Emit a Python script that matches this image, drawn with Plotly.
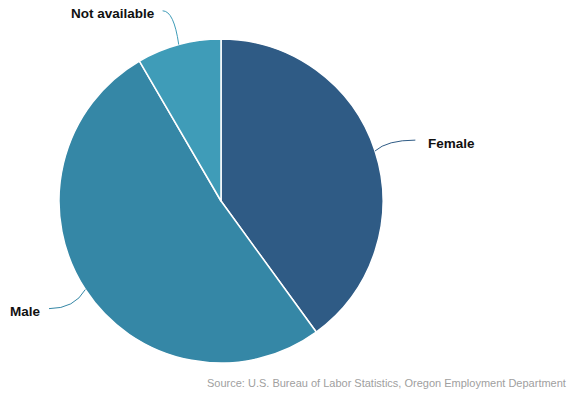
import math
import plotly.graph_objects as go

# Share of records by sex
labels = ["Female", "Male", "Not available"]
shares = [40.0, 51.6, 8.4]
colors = ["#2F5B85", "#3587A6", "#3F9CB8"]
source_text = "Source: U.S. Bureau of Labor Statistics, Oregon Employment Department"

W, H = 568, 396
CX, CY, R = 221, 201, 162          # pie centre and radius in pixels
CONNECTOR_REACH = 35               # radial connector length beyond the rim
CONNECTOR_TAIL = 7                 # horizontal run toward the label
LABEL_GAP_RIGHT = 11
LABEL_GAP_LEFT = 6
LABEL_DROP = 3

def px(x):
    return x / W

def py(y):
    return 1 - y / H

fig = go.Figure(go.Pie(
    labels=labels,
    values=shares,
    marker=dict(colors=colors, line=dict(color="white", width=1.5)),
    sort=False,
    direction="clockwise",
    rotation=0,
    textinfo="none",
    hoverinfo="label+percent",
    domain=dict(x=[px(CX - R), px(CX + R)], y=[py(CY + R), py(CY - R)]),
))

# Outside labels with curved connectors, placed from each slice's mid angle
total = sum(shares)
shapes, annotations = [], []
start = 0.0
for name, val, col in zip(labels, shares, colors):
    mid = (start + val / 2) / total * 2 * math.pi
    start += val
    side = 1 if math.sin(mid) >= 0 else -1
    sx, sy = CX + R * math.sin(mid), CY - R * math.cos(mid)
    ex = CX + (R + CONNECTOR_REACH) * math.sin(mid) + side * CONNECTOR_TAIL
    ey = CY - (R + CONNECTOR_REACH) * math.cos(mid)
    cx_ctrl = sx + (ex - sx) * 0.3
    cy_ctrl = ey
    path = (f"M {px(sx)} {py(sy)} Q {px(cx_ctrl)} {py(cy_ctrl)} {px(ex)} {py(ey)}")
    shapes.append(dict(type="path", path=path, xref="paper", yref="paper",
                       line=dict(color=col, width=1)))
    gap = LABEL_GAP_RIGHT if side > 0 else LABEL_GAP_LEFT
    annotations.append(dict(
        x=px(ex + side * gap), y=py(ey + LABEL_DROP),
        xref="paper", yref="paper",
        text=f"<b>{name}</b>", showarrow=False,
        xanchor="left" if side > 0 else "right", yanchor="middle",
        font=dict(family="Liberation Sans, Arial, sans-serif", size=13.5, color="#111111"),
    ))

annotations.append(dict(
    x=px(568), y=py(383), xref="paper", yref="paper",
    text=source_text, showarrow=False, xanchor="right", yanchor="middle",
    font=dict(family="Liberation Sans, Arial, sans-serif", size=11, color="#a0a0a0"),
))

fig.update_layout(
    width=W, height=H,
    margin=dict(l=0, r=0, t=0, b=0),
    paper_bgcolor="white", plot_bgcolor="white",
    showlegend=False,
    shapes=shapes,
    annotations=annotations,
)

fig.write_html("out.html")
